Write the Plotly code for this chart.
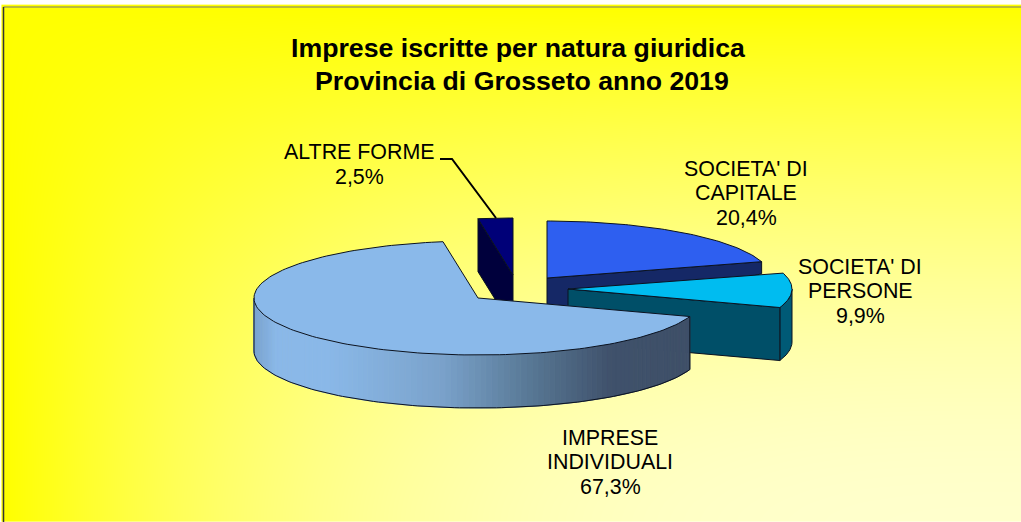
import math
import numpy as np
import plotly.graph_objects as go

# ---- data ----
categories = ["SOCIETA' DI CAPITALE", "SOCIETA' DI PERSONE", "IMPRESE INDIVIDUALI", "ALTRE FORME"]
shares = [20.4, 9.9, 67.3, 2.5]
title_lines = ["Imprese iscritte per natura giuridica", "Provincia di Grosseto anno 2019"]
label_lines = [["SOCIETA' DI", "CAPITALE"], ["SOCIETA' DI", "PERSONE"], ["IMPRESE", "INDIVIDUALI"], ["ALTRE FORME"]]

# ---- geometry and style ----
W, H = 1021, 522
RX, RY, DEPTH = 224, 57, 53
centres = [(547, 278), (568, 289), (478, 298), (513, 275)]
top_colours = ["#2e5ff0", "#00bcf0", "#8ab9ea", "#000078"]
cut_colours = ["#152866", "#004f68", None, "#00003c"]
rim_colour_persone = "#005a76"
label_pos = [(746, 168.7), (860, 266.8), (610, 437.8), (359.5, 152)]
LINE_H = 24.6
EDGE = "#0b1220"
grad_x = [254, 275, 330, 440, 530, 610, 690]
grad_rgb = [(122, 163, 207), (138, 184, 232), (138, 184, 232), (123, 163, 204), (88, 120, 149), (64, 82, 108), (63, 80, 104)]


def pt(c, deg, drop=0.0):
    a = math.radians(deg)
    return c[0] + RX * math.sin(a), c[1] - RY * math.cos(a) + drop


def arc(c, a0, a1, drop=0.0, n=80):
    return [pt(c, t, drop) for t in np.linspace(a0, a1, n)]


def poly(points, fill, line=EDGE, width=1.0):
    xs = [p[0] for p in points] + [points[0][0]]
    ys = [p[1] for p in points] + [points[0][1]]
    return go.Scatter(x=xs, y=ys, mode="lines", fill="toself", fillcolor=fill,
                      line=dict(color=line, width=width), hoverinfo="skip", showlegend=False)


total = sum(shares)
edges = [0.0]
for s in shares:
    edges.append(edges[-1] + s / total * 360)

fig = go.Figure()

# background: gradient from the top and left edges to the lower right corner
gx = np.linspace(4, W, 200)
gy = np.linspace(7, H, 110)
gz = [[(1 - (1 - (x - 4) / (W - 4)) ** 3) * (1 - (1 - (y - 7) / (H - 7)) ** 1.74) for x in gx] for y in gy]
fig.add_trace(go.Heatmap(x=gx, y=gy, z=gz, zmin=0, zmax=1, showscale=False, hoverinfo="skip",
                         zsmooth="best", colorscale=[[0, "#ffff00"], [1, "#ffffcc"]]))

# ALTRE FORME
c = centres[3]
a0, a1 = edges[3], edges[4]
fig.add_trace(poly([pt(c, a0), c, (c[0], c[1] + DEPTH), pt(c, a0, DEPTH)], cut_colours[3]))
fig.add_trace(poly([c] + arc(c, a0, a1), top_colours[3]))

# CAPITALE
c = centres[0]
a0, a1 = edges[0], edges[1]
fig.add_trace(poly([c, pt(c, a1), pt(c, a1, 12), (c[0], c[1] + DEPTH)], cut_colours[0]))
fig.add_trace(poly([c] + arc(c, a0, a1), top_colours[0]))

# PERSONE
c = centres[1]
a0, a1 = edges[1], edges[2]
fig.add_trace(poly(arc(c, 90, a1) + arc(c, a1, 90, DEPTH), rim_colour_persone))
fig.add_trace(poly([c, pt(c, a1), pt(c, a1, DEPTH), (c[0], c[1] + DEPTH)], cut_colours[1]))
fig.add_trace(poly([c] + arc(c, a0, a1), top_colours[1]))

# IMPRESE INDIVIDUALI: shaded side made of strips
c = centres[2]
a0, a1 = edges[2], edges[3]
steps = np.arange(a0, 270.01, 1.5)
for s0, s1 in zip(steps[:-1], steps[1:]):
    xm = pt(c, (s0 + s1) / 2)[0]
    rgb = [int(np.interp(xm, grad_x, [g[k] for g in grad_rgb])) for k in range(3)]
    col = "rgb(%d,%d,%d)" % tuple(rgb)
    fig.add_trace(poly([pt(c, s0), pt(c, s1), pt(c, s1, DEPTH), pt(c, s0, DEPTH)], col, line=col, width=1))
outline = [pt(c, a0)] + arc(c, a0, 270, DEPTH, 120) + [pt(c, 270)]
fig.add_trace(go.Scatter(x=[p[0] for p in outline], y=[p[1] for p in outline], mode="lines",
                         line=dict(color=EDGE, width=1), hoverinfo="skip", showlegend=False))
fig.add_trace(poly([c] + arc(c, a0, a1, 0, 160), top_colours[2]))

# leader line of ALTRE FORME
fig.add_trace(go.Scatter(x=[440, 452, 496], y=[159, 159, 218], mode="lines",
                         line=dict(color="#000000", width=2), hoverinfo="skip", showlegend=False))

# labels
annotations = []
for lines, share, (lx, ly) in zip(label_lines, shares, label_pos):
    texts = lines + [f"{share:.1f}%".replace(".", ",")]
    for i, t in enumerate(texts):
        annotations.append(dict(x=lx, y=ly + i * LINE_H, text=t, xref="x", yref="y", showarrow=False,
                                xanchor="center", yanchor="middle",
                                font=dict(family="Liberation Sans", size=21.4, color="#000000")))
for t, tx, ty in zip(title_lines, (518, 521.5), (48, 81)):
    annotations.append(dict(x=tx, y=ty, text=f"<b>{t}</b>", xref="x", yref="y", showarrow=False,
                            xanchor="center", yanchor="middle",
                            font=dict(family="Liberation Sans", size=26.7, color="#000000")))

fig.update_layout(
    width=W, height=H, margin=dict(l=0, r=0, t=0, b=0), paper_bgcolor="#ffffff", plot_bgcolor="#ffffff",
    showlegend=False, annotations=annotations,
    xaxis=dict(range=[0, W], visible=False, fixedrange=True),
    yaxis=dict(range=[H, 0], visible=False, fixedrange=True),
    shapes=[dict(type="line", x0=3.5, x1=W, y0=7, y1=7, line=dict(color="#777777", width=1)),
            dict(type="line", x0=3.5, x1=3.5, y0=7, y1=H, line=dict(color="#333333", width=1.5))],
)
fig.write_html("out.html", config={"displayModeBar": False},
               post_script="document.body.style.margin='0';document.body.style.overflow='hidden';")
